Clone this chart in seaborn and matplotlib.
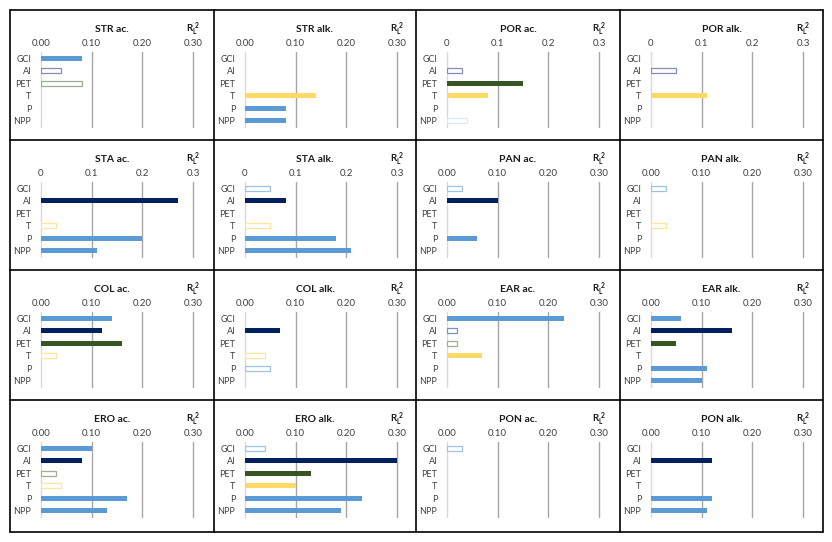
import matplotlib
matplotlib.use("Agg")
import matplotlib.pyplot as plt
import seaborn as sns
import pandas as pd
from matplotlib.lines import Line2D

# predictors shown in every panel (top to bottom)
CATS = ["GCI", "AI", "PET", "T", "P", "NPP"]

# R_L^2 per predictor; a negative sign marks the hollow (negative relation) bars
STR_AC = [0.08, -0.04, -0.08, 0, 0, 0]
STR_ALK = [0, 0, 0, 0.14, 0.08, 0.08]
POR_AC = [0, -0.03, 0.15, 0.08, 0, -0.04]
POR_ALK = [0, -0.05, 0, 0.11, 0, 0]
STA_AC = [0, 0.27, 0, -0.03, 0.20, 0.11]
STA_ALK = [-0.05, 0.08, 0, -0.05, 0.18, 0.21]
PAN_AC = [-0.03, 0.10, 0, 0, 0.06, 0]
PAN_ALK = [-0.03, 0, 0, -0.03, 0, 0]
COL_AC = [0.14, 0.12, 0.16, -0.03, 0, 0]
COL_ALK = [0, 0.07, 0, -0.04, -0.05, 0]
EAR_AC = [0.23, -0.02, -0.02, 0.07, 0, 0]
EAR_ALK = [0.06, 0.16, 0.05, 0, 0.11, 0.10]
ERO_AC = [0.10, 0.08, -0.03, -0.04, 0.17, 0.13]
ERO_ALK = [-0.04, 0.30, 0.13, 0.10, 0.23, 0.19]
PON_AC = [-0.03, 0, 0, 0, 0, 0]
PON_ALK = [0, 0.12, 0, 0, 0.12, 0.11]

TITLES = ["STR ac.", "STR alk.", "POR ac.", "POR alk.",
          "STA ac.", "STA alk.", "PAN ac.", "PAN alk.",
          "COL ac.", "COL alk.", "EAR ac.", "EAR alk.",
          "ERO ac.", "ERO alk.", "PON ac.", "PON alk."]
VALUES = [STR_AC, STR_ALK, POR_AC, POR_ALK,
          STA_AC, STA_ALK, PAN_AC, PAN_ALK,
          COL_AC, COL_ALK, EAR_AC, EAR_ALK,
          ERO_AC, ERO_ALK, PON_AC, PON_ALK]
# panels whose axis is labelled 0 / 0.1 / 0.2 / 0.3
SHORT_TICKS = ["POR ac.", "POR alk.", "STA ac.", "STA alk."]

TICKS = [0, 0.1, 0.2, 0.3]
LABELS_LONG = ["0.00", "0.10", "0.20", "0.30"]
LABELS_SHORT = ["0", "0.1", "0.2", "0.3"]

FILL = ["#5B9BD5", "#002060", "#375623", "#FFD966", "#5B9BD5", "#5B9BD5"]
EDGE = ["#9DC3E6", "#7F8FB8", "#9DAE92", "#FFE699", "#9DC3E6", "#DEEBF7"]

sns.set_style("white")
plt.rcParams["font.family"] = ["Lato", "DejaVu Sans"]
plt.rcParams["mathtext.fontset"] = "custom"
plt.rcParams["mathtext.rm"] = "Lato"
plt.rcParams["mathtext.bf"] = "Lato:bold"
plt.rcParams["mathtext.it"] = "Lato:italic"

W, H = 832, 542
fig = plt.figure(figsize=(W / 100, H / 100), dpi=100)

COL_EDGES = [10, 214, 416, 620, 823]
ROW_EDGES = [10, 140, 270, 400, 532]


def fx(px):
    return px / W


def fy(py):
    return 1 - py / H


for k, (title, vals) in enumerate(zip(TITLES, VALUES)):
    r, c = divmod(k, 4)
    x0, x1 = COL_EDGES[c], COL_EDGES[c + 1]
    y0 = ROW_EDGES[r]
    ax = fig.add_axes([fx(x0 + 31), fy(y0 + 117), 152 / W, 75 / H])

    df = pd.DataFrame({"var": CATS, "r2": [abs(v) for v in vals]})
    sns.barplot(data=df, x="r2", y="var", hue="var", order=CATS, hue_order=CATS,
                palette=dict(zip(CATS, FILL)), saturation=1, width=0.4,
                legend=False, orient="h", linewidth=0, zorder=3, ax=ax)

    # hollow bars for the negative relations
    for i, cont in enumerate(ax.containers):
        for bar in cont:
            if vals[i] < 0:
                bar.set_facecolor("white")
                bar.set_edgecolor(EDGE[i])
                bar.set_linewidth(0.9)

    ax.set_xlim(0, 0.3)
    ax.set_ylim(5.5, -0.5)
    sns.despine(ax=ax, left=True, bottom=True, top=True, right=True)
    ax.axvline(0, color="#D9D9D9", lw=1, zorder=1, clip_on=False)
    for g in TICKS[1:]:
        ax.axvline(g, color="#A6A6A6", lw=1, zorder=1, clip_on=False)

    ax.xaxis.tick_top()
    ax.set_xticks(TICKS)
    ax.set_xticklabels(LABELS_SHORT if title in SHORT_TICKS else LABELS_LONG)
    ax.tick_params(axis="x", length=0, pad=3, labelsize=7, colors="#404040")
    ax.tick_params(axis="y", length=0, pad=7, labelsize=6.5, colors="#404040")
    ax.set_xlabel("")
    ax.set_ylabel("")

    fig.text(fx((x0 + x1) / 2), fy(y0 + 19), title, ha="center", va="center",
             fontsize=7.5, fontweight="bold", color="#1a1a1a")
    fig.text(fx(x0 + 183), fy(y0 + 19), r"$\mathbf{R_L^{\ 2}}$", ha="center",
             va="center", fontsize=7, color="#1a1a1a")

# table borders around the panels
for xe in COL_EDGES:
    fig.add_artist(Line2D([fx(xe), fx(xe)], [fy(ROW_EDGES[0]), fy(ROW_EDGES[-1])],
                          transform=fig.transFigure, color="black", lw=1.2))
for ye in ROW_EDGES:
    fig.add_artist(Line2D([fx(COL_EDGES[0]), fx(COL_EDGES[-1])], [fy(ye), fy(ye)],
                          transform=fig.transFigure, color="black", lw=1.2))

fig.savefig("out.png", dpi=100)
